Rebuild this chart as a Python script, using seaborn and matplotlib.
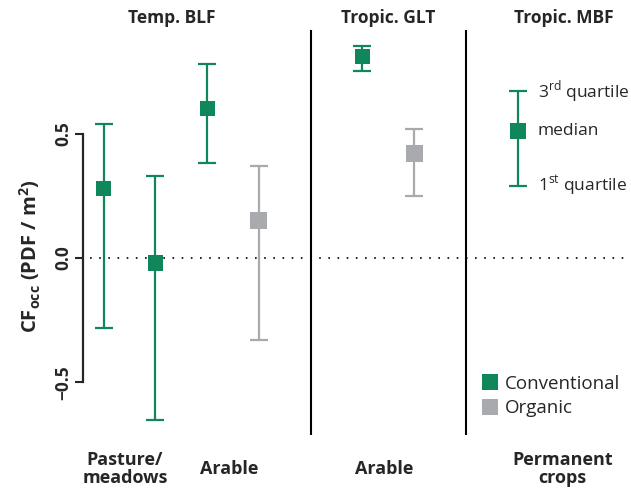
import numpy as np
import pandas as pd
import matplotlib
matplotlib.use("Agg")
import matplotlib.pyplot as plt
import seaborn as sns
from matplotlib.lines import Line2D

# data (CF_occ, PDF / m2)
biome = ["Temp. BLF", "Temp. BLF", "Temp. BLF", "Temp. BLF", "Tropic. GLT", "Tropic. GLT"]
land_use = ["Pasture/meadows", "Pasture/meadows", "Arable", "Arable", "Arable", "Arable"]
system = ["Conventional", "Conventional", "Conventional", "Organic", "Conventional", "Organic"]
median = [0.28, -0.02, 0.60, 0.15, 0.81, 0.42]
q1 = [-0.28, -0.65, 0.38, -0.33, 0.75, 0.25]
q3 = [0.54, 0.33, 0.78, 0.37, 0.85, 0.52]

# quartile key shown in the Tropic. MBF panel
key_values = [0.29, 0.51, 0.67]
key_labels = ["1$^{\\mathregular{st}}$ quartile", "median", "3$^{\\mathregular{rd}}$ quartile"]

titles = ["Temp. BLF", "Tropic. GLT", "Tropic. MBF"]
group_labels = ["Pasture/\nmeadows", "Arable", "Arable", "Permanent\ncrops"]

GREEN = "#10875A"
GREY = "#A9AAAD"
slots = [0, 1, 2, 3, 5, 6]
key_slot = 8

sns.set_style("white")
plt.rcParams["font.family"] = ["Open Sans", "DejaVu Sans"]
plt.rcParams["mathtext.fontset"] = "custom"
plt.rcParams["mathtext.rm"] = "Open Sans"
plt.rcParams["mathtext.bf"] = "Open Sans:bold"

df = pd.DataFrame({"biome": biome, "land_use": land_use, "system": system,
                   "median": median, "q1": q1, "q3": q3, "pos": slots})

fig = plt.figure(figsize=(6.31, 4.90), dpi=100)
ax = fig.add_axes([83 / 631, 55 / 490, 547 / 631, 405 / 490])

colors = {"Conventional": GREEN, "Organic": GREY}
sizes = {"Conventional": 117, "Organic": 150}

for sysname, sub in df.groupby("system"):
    ax.errorbar(sub["pos"], sub["median"],
                yerr=[sub["median"] - sub["q1"], sub["q3"] - sub["median"]],
                fmt="none", ecolor=colors[sysname], elinewidth=1.6,
                capsize=6.8, capthick=1.6, zorder=2)

sns.scatterplot(data=df, x="pos", y="median", hue="system", size="system",
                sizes=sizes, palette=colors, marker="s", linewidth=0,
                ax=ax, zorder=3, legend=False)

# quartile key
ax.errorbar([key_slot], [key_values[1]],
            yerr=[[key_values[1] - key_values[0]], [key_values[2] - key_values[1]]],
            fmt="none", ecolor=GREEN, elinewidth=1.6, capsize=6.8, capthick=1.6, zorder=2)
ax.scatter([key_slot], [key_values[1]], marker="s", s=117, color=GREEN, linewidth=0, zorder=3)
for v, lab in zip(key_values, key_labels):
    ax.text(key_slot + 0.39, v, lab, fontsize=12.5, va="center", ha="left")

# legend
handles = [Line2D([], [], marker="s", linestyle="none", markersize=11, markeredgewidth=0,
                  color=colors[s]) for s in ["Conventional", "Organic"]]
ax.legend(handles, ["Conventional", "Organic"], frameon=False, fontsize=13.5,
          loc="center left", bbox_to_anchor=(471 / 631, (490 - 396) / 490),
          bbox_transform=fig.transFigure, handletextpad=0.3, labelspacing=0.35,
          handlelength=1.0, borderpad=0)

ax.axhline(0, color="black", lw=1.2, linestyle=(0, (1, 4.5)), xmin=0.012, zorder=1)
ax.axvline(4, color="black", lw=1.5)
ax.axvline(7, color="black", lw=1.5)

ax.set_xlim(-0.4, 10.17)
ax.set_ylim(-0.711, 0.916)
ax.set_xticks([])
ax.set_yticks([-0.5, 0.0, 0.5])
ax.set_yticklabels(["\u22120.5", "0.0", "0.5"], rotation=90, va="center",
                   fontsize=12.5, fontweight="bold")
ax.tick_params(axis="y", direction="out", length=6, width=1.5, pad=2, left=True)
for side in ["top", "right", "bottom"]:
    ax.spines[side].set_visible(False)
ax.spines["left"].set_bounds(-0.5, 0.5)
ax.spines["left"].set_linewidth(1.6)
ax.set_xlabel("")
ax.set_ylabel("")

fig.text(30 / 631, (490 - 256) / 490,
         "CF$_{\\mathbf{occ}}$ (PDF / m$^{\\mathbf{2}}$)",
         rotation=90, ha="center", va="center", fontsize=14.5, fontweight="bold")

for x, t in zip([1.31, 5.49, 8.9], titles):
    ax.text(x, 0.964, t, ha="center", va="center", fontsize=12.5, fontweight="bold",
            clip_on=False)
for x, t in zip([0.41, 2.42, 5.42, 8.87], group_labels):
    ax.text(x, -0.847, t, ha="center", va="center", fontsize=13, fontweight="bold",
            linespacing=1.0, clip_on=False)

fig.savefig("out.png", dpi=100)
